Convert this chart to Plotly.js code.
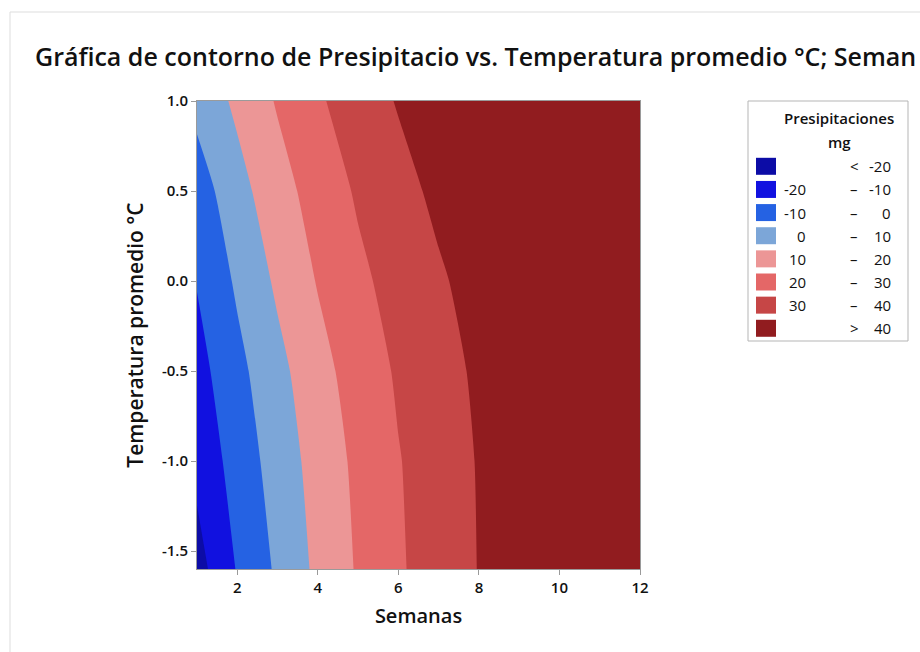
<!DOCTYPE html>
<html>
<head>
<meta charset="utf-8">
<script src="https://cdn.plot.ly/plotly-3.0.1.min.js"></script>
<style>html,body{margin:0;padding:0;background:#fff;overflow:hidden;}#chart{width:920px;height:652px;overflow:hidden;}</style>
</head>
<body>
<div id="chart"></div>
<script>
// ---- data ----
const semanas = [1, 2, 3, 4, 5, 6, 7, 8, 9, 10, 11, 12];
const temperatura = [-1.6, -1.0, -0.5, 0.0, 0.5, 1.0];
const zRowM16 = [-24.0, -9.3, 1.6, 12.2, 21.0, 28.8, 34.7, 40.3, 44.0, 47.0, 49.0, 50.0];
const zRowM10 = [-17.2, -5.9, 4.4, 13.9, 22.2, 29.5, 35.1, 40.6, 44.5, 47.5, 49.5, 50.5];
const zRowM05 = [-13.6, -2.8, 7.1, 16.5, 24.5, 31.2, 36.4, 41.6, 45.5, 48.5, 50.5, 51.5];
const zRow00  = [-9.5, 1.5, 11.7, 20.6, 27.9, 33.6, 38.7, 43.7, 47.0, 50.0, 52.0, 53.0];
const zRowP05 = [-5.1, 6.5, 16.0, 24.2, 31.2, 36.7, 42.2, 46.5, 50.0, 52.5, 54.0, 55.0];
const zRowP10 = [3.0, 12.0, 20.9, 28.7, 34.9, 40.7, 45.5, 49.5, 52.5, 55.0, 56.5, 57.5];
const legendLow  = ['', '-20', '-10', '0', '10', '20', '30', ''];
const legendMid  = ['<', '–', '–', '–', '–', '–', '–', '>'];
const legendHigh = ['-20', '-10', '0', '10', '20', '30', '40', '40'];
const xTicks = [2, 4, 6, 8, 10, 12];
const yTicks = [-1.5, -1.0, -0.5, 0.0, 0.5, 1.0];

// ---- styling ----
const bandColors = ['#0c0ca6', '#1111e0', '#2562e3', '#7ca6d8', '#ec9696', '#e46767', '#c64646', '#911c1f'];
const colorscale = bandColors.map((c, i) => [i / (bandColors.length - 1), c]);

const W = 920, H = 652;
const L = 197, R = 640, T = 101, B = 569;
const px2x = p => (p - L) / (R - L);
const py2y = p => (B - p) / (B - T);

const trace = {
  type: 'contour',
  x: semanas,
  y: temperatura,
  z: [zRowM16, zRowM10, zRowM05, zRow00, zRowP05, zRowP10],
  colorscale: colorscale,
  zmin: -25, zmax: 45, zauto: false,
  contours: {start: -20, end: 40, size: 10, coloring: 'fill'},
  line: {width: 0, smoothing: 0.6},
  showscale: false,
  hoverinfo: 'skip'
};

const shapes = [
  {type: 'line', xref: 'paper', yref: 'paper', x0: px2x(10), x1: px2x(920), y0: py2y(12), y1: py2y(12), line: {color: '#dddddd', width: 1}},
  {type: 'line', xref: 'paper', yref: 'paper', x0: px2x(10), x1: px2x(10), y0: py2y(12), y1: py2y(652), line: {color: '#dddddd', width: 1}},
  {type: 'rect', xref: 'paper', yref: 'paper', x0: px2x(748), x1: px2x(908), y0: py2y(101), y1: py2y(341), line: {color: '#b5b5b5', width: 1}, fillcolor: 'rgba(0,0,0,0)'}
];
const annotations = [
  {xref: 'paper', yref: 'paper', x: px2x(839), y: py2y(118), text: 'Presipitaciones', showarrow: false, xanchor: 'center', yanchor: 'middle', font: {family: 'Open Sans', size: 15, color: '#111', weight: 600}},
  {xref: 'paper', yref: 'paper', x: px2x(839), y: py2y(142), text: 'mg', showarrow: false, xanchor: 'center', yanchor: 'middle', font: {family: 'Open Sans', size: 15, color: '#111', weight: 600}}
];
const rowStep = 23.14, row0 = 166.3;
bandColors.forEach((c, i) => {
  const cy = row0 + i * rowStep;
  shapes.push({type: 'rect', xref: 'paper', yref: 'paper', x0: px2x(756), x1: px2x(776), y0: py2y(cy - 8.5), y1: py2y(cy + 8.5), line: {width: 0}, fillcolor: c});
  const f = {family: 'Open Sans', size: 15, color: '#111', weight: 500};
  if (legendLow[i]) annotations.push({xref: 'paper', yref: 'paper', x: px2x(808), y: py2y(cy), text: legendLow[i], showarrow: false, xanchor: 'right', yanchor: 'middle', font: f});
  annotations.push({xref: 'paper', yref: 'paper', x: px2x(854), y: py2y(cy), text: legendMid[i], showarrow: false, xanchor: 'center', yanchor: 'middle', font: f});
  annotations.push({xref: 'paper', yref: 'paper', x: px2x(893), y: py2y(cy), text: legendHigh[i], showarrow: false, xanchor: 'right', yanchor: 'middle', font: f});
});

const axisCommon = {
  showgrid: false, zeroline: false, showline: true, mirror: true,
  linecolor: '#9a9a9a', linewidth: 1,
  ticks: 'outside', ticklen: 5, tickcolor: '#9a9a9a',
  tickfont: {family: 'Open Sans', size: 15, color: '#111', weight: 600}
};

const layout = {
  width: W, height: H,
  margin: {l: L, r: W - R, t: T, b: H - B, pad: 0},
  paper_bgcolor: '#ffffff', plot_bgcolor: '#ffffff',
  showlegend: false,
  title: {text: 'Gráfica de contorno de Presipitacio vs. Temperatura promedio °C; Seman', x: 35 / W, xref: 'container', xanchor: 'left', y: 1 - 57 / H, yref: 'container', yanchor: 'middle', font: {family: 'Open Sans', size: 25, color: '#111', weight: 600}},
  xaxis: Object.assign({}, axisCommon, {range: [1, 12], tickvals: xTicks, ticktext: xTicks.map(String), title: {text: 'Semanas', standoff: 12, font: {family: 'Open Sans', size: 20, color: '#111', weight: 600}}}),
  yaxis: Object.assign({}, axisCommon, {range: [-1.6, 1.0], tickvals: yTicks, ticktext: yTicks.map(v => v.toFixed(1)), title: {text: 'Temperatura promedio °C', standoff: 12, font: {family: 'Open Sans', size: 21, color: '#111', weight: 600}}}),
  shapes: shapes,
  annotations: annotations
};

Plotly.newPlot('chart', [trace], layout, {displayModeBar: false, staticPlot: true});
</script>
</body>
</html>
